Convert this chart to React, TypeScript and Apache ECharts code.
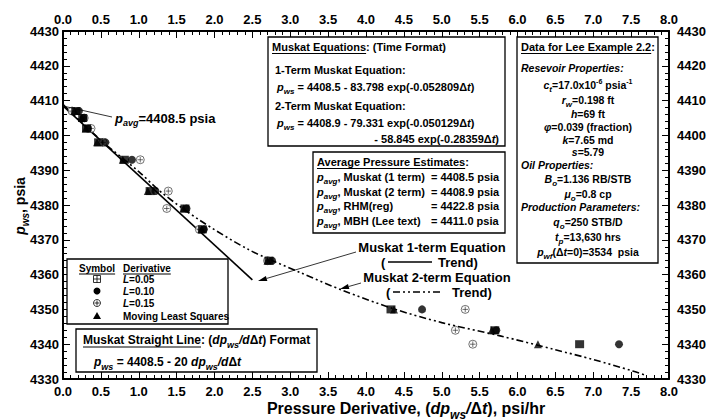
import React, { useEffect, useRef } from 'react';
import * as echarts from 'echarts';

const FONT = '"Liberation Sans", Arial, Helvetica, sans-serif';

// ---- Data ----
const xMin = 0, xMax = 8, xStep = 0.5;
const yMin = 4330, yMax = 4430, yStep = 10;

// Derivative L=0.05 (squares)
const deriv005: number[][] = [[0.17, 4407], [0.26, 4405], [0.31, 4402], [0.47, 4398], [0.81, 4393], [1.15, 4384], [1.61, 4379], [1.84, 4373], [2.72, 4364], [4.33, 4350], [5.70, 4344], [6.82, 4340]];
// Derivative L=0.10 (filled circles)
const deriv010: number[][] = [[0.21, 4407], [0.27, 4405], [0.33, 4402], [0.56, 4398], [0.91, 4393], [1.22, 4384], [1.63, 4379], [1.86, 4373], [2.76, 4364], [4.74, 4350], [5.72, 4344], [7.34, 4340]];
// Derivative L=0.15 (circle-plus)
const deriv015: number[][] = [[0.12, 4407], [0.28, 4405], [0.37, 4402], [0.53, 4398], [1.02, 4393], [1.39, 4384], [1.37, 4379], [1.80, 4373], [2.70, 4364], [5.31, 4350], [5.18, 4344], [5.41, 4340]];
// Moving least squares (triangles)
const derivMLS: number[][] = [[0.15, 4407], [0.25, 4405], [0.30, 4402], [0.45, 4398], [0.79, 4393], [1.12, 4384], [1.59, 4379], [1.83, 4373], [2.70, 4364], [4.37, 4350], [5.66, 4344], [6.27, 4340]];
// Muskat straight line (pws = 4408.5 - 20 dp/dt)
const straightLine: number[][] = [[0, 4408.5], [2.5, 4358.5]];
// Muskat 2-term trend
const twoTermTrend: number[][] = [[0, 4408.9], [0.5, 4398.6], [1.0, 4389.6], [1.3, 4383.6], [1.8, 4375.7], [2.45, 4367.2], [3.13, 4360.6], [3.7, 4355.4], [4.36, 4350.2], [5.0, 4346.2], [5.77, 4342.4], [6.5, 4338.4], [7.0, 4335.6], [7.52, 4332.3], [7.7, 4331.0]];

const avgLabels = ['{i|p}{s|avg}, Muskat (1 term)', '{i|p}{s|avg}, Muskat (2 term)', '{i|p}{s|avg}, RHM(reg)', '{i|p}{s|avg}, MBH (Lee text)'];
const avgValues = ['4408.5', '4408.9', '4422.8', '4411.0'];

const CIRCLE_PLUS = 'path://M0,-10A10,10,0,1,1,0,10A10,10,0,1,1,0,-10ZM0,-7L0,7M-7,0L7,0';

function rich(size: number) {
  const b = { fontFamily: FONT, fontWeight: 'bold', fill: '#000' };
  const sub = Math.round(size * 0.72);
  return {
    n: { ...b, fontSize: size, fontStyle: 'normal' },
    i: { ...b, fontSize: size, fontStyle: 'italic' },
    s: { ...b, fontSize: sub, fontStyle: 'italic', padding: [Math.round(size * 0.8), 0, 0, 0] },
    u: { ...b, fontSize: Math.round(size * 0.62), fontStyle: 'normal', padding: [0, 0, Math.round(size * 0.75), 0] },
  };
}

function txt(x: number, y: number, text: string, size: number, o: any = {}) {
  return {
    type: 'text', x, y, z: 100, rotation: o.rotation || 0,
    style: {
      text, fontFamily: FONT, fontSize: size, fontWeight: 'bold', fontStyle: o.italic ? 'italic' : 'normal',
      fill: '#000', align: o.align || 'left', verticalAlign: 'middle', rich: rich(size),
    },
  };
}

function line(x1: number, y1: number, x2: number, y2: number, w = 1, dash?: number[]) {
  return { type: 'line', z: 100, shape: { x1, y1, x2, y2 }, style: { stroke: '#000', lineWidth: w, lineDash: dash } };
}

function box(x: number, y: number, w: number, h: number) {
  return { type: 'rect', z: 99, shape: { x, y, width: w, height: h }, style: { fill: '#fff', stroke: '#000', lineWidth: 1.3 } };
}

function arrow(x1: number, y1: number, x2: number, y2: number) {
  const a = Math.atan2(y2 - y1, x2 - x1);
  const L = 9, W = 2.6;
  const bx = x2 - L * Math.cos(a), by = y2 - L * Math.sin(a);
  const nx = -Math.sin(a) * W, ny = Math.cos(a) * W;
  return [
    line(x1, y1, bx, by, 0.8),
    { type: 'polygon', z: 100, shape: { points: [[x2, y2], [bx + nx, by + ny], [bx - nx, by - ny]] }, style: { fill: '#000' } },
  ];
}

let measureCtx: CanvasRenderingContext2D | null = null;
function tw(text: string, size: number) {
  if (!measureCtx) measureCtx = document.createElement('canvas').getContext('2d');
  measureCtx!.font = `bold ${size}px "Liberation Sans"`;
  return measureCtx!.measureText(text).width;
}

function underlined(x: number, y: number, under: string, rest: string, size: number) {
  const w = tw(under, size);
  return [txt(x, y, under + rest, size), line(x, y + size * 0.5 + 1, x + w, y + size * 0.5 + 1, 1)];
}

export default function App() {
  const ref = useRef<HTMLDivElement>(null);
  useEffect(() => {
    document.body.style.margin = '0';
    const chart = echarts.init(ref.current!, null, { renderer: 'svg' });

    const xAxisBase = {
      type: 'value', min: xMin, max: xMax, interval: xStep,
      axisLine: { show: true, onZero: false, lineStyle: { color: '#000', width: 2 } },
      axisTick: { show: true, inside: true, length: 7, lineStyle: { color: '#000', width: 1 } },
      minorTick: { show: true, splitNumber: 5, length: 4, lineStyle: { color: '#000', width: 1 } },
      splitLine: { show: false },
      axisLabel: { color: '#000', fontSize: 13, fontWeight: 'bold', fontFamily: FONT, formatter: (v: number) => v.toFixed(1), margin: 6, showMinLabel: true, showMaxLabel: true },
    };
    const yAxisBase = {
      type: 'value', min: yMin, max: yMax, interval: yStep,
      axisLine: { show: true, onZero: false, lineStyle: { color: '#000', width: 2 } },
      axisTick: { show: true, inside: true, length: 7, lineStyle: { color: '#000', width: 1 } },
      minorTick: { show: true, splitNumber: 5, length: 4, lineStyle: { color: '#000', width: 1 } },
      splitLine: { show: false },
    };
    const yLabel = (margin: number) => ({ color: '#000', fontSize: 13, fontWeight: 'bold', fontFamily: FONT, margin, showMinLabel: true, showMaxLabel: true, formatter: (v: number) => String(v) });

    const g: any[] = [];
    // p_avg annotation
    g.push(line(63, 106, 112, 117, 0.8));
    g.push(txt(115, 118, '{i|p}{s|avg}=4408.5 psia', 13));

    // Muskat Equations box
    g.push(box(268, 37, 237, 109));
    g.push(...underlined(272, 47, 'Muskat Equations', ': (Time Format)', 11));
    g.push(txt(275, 70, '1-Term Muskat Equation:', 11));
    g.push(txt(277, 87, '{i|p}{s|ws} = 4408.5 - 83.798 exp(-0.052809Δ{i|t})', 11));
    g.push(txt(275, 106, '2-Term Muskat Equation:', 11));
    g.push(txt(277, 123, '{i|p}{s|ws} = 4408.9 - 79.331 exp(-0.050129Δ{i|t})', 11));
    g.push(txt(499, 139, '- 58.845 exp(-0.28359Δ{i|t})', 11, { align: 'right' }));

    // Average pressure estimates box
    g.push(box(313, 152, 192, 81));
    g.push(...underlined(317, 162, 'Average Pressure Estimates', ':', 11));
    avgLabels.forEach((lab, k) => {
      const y = 177 + k * 14.7;
      g.push(txt(317, y, lab, 11));
      g.push(txt(431, y, '= ' + avgValues[k] + ' psia', 11));
    });

    // Data box
    g.push(box(517, 37, 141, 226));
    g.push(...underlined(521, 47, 'Data for Lee Example 2.2', ':', 11));
    const cx = 588;
    g.push(txt(521, 68, 'Resevoir Properties:', 10.5, { italic: true }));
    g.push(txt(cx, 85, '{i|c}{s|t}=17.0x10{u|-6} psia{u|-1}', 10.5, { align: 'center' }));
    g.push(txt(cx, 100, '{i|r}{s|w}=0.198 ft', 10.5, { align: 'center' }));
    g.push(txt(cx, 114, '{i|h}=69 ft', 10.5, { align: 'center' }));
    g.push(txt(cx, 127, '{i|φ}=0.039 (fraction)', 10.5, { align: 'center' }));
    g.push(txt(cx, 140, '{i|k}=7.65 md', 10.5, { align: 'center' }));
    g.push(txt(cx, 152, '{i|s}=5.79', 10.5, { align: 'center' }));
    g.push(txt(521, 165, 'Oil Properties:', 10.5, { italic: true }));
    g.push(txt(cx, 179, '{i|B}{s|o}=1.136 RB/STB', 10.5, { align: 'center' }));
    g.push(txt(cx, 194, '{i|μ}{s|o}=0.8 cp', 10.5, { align: 'center' }));
    g.push(txt(521, 207, 'Production Parameters:', 10.5, { italic: true }));
    g.push(txt(cx, 222, '{i|q}{s|o}=250 STB/D', 10.5, { align: 'center' }));
    g.push(txt(cx, 237, '{i|t}{s|p}=13,630 hrs', 10.5, { align: 'center' }));
    g.push(txt(cx, 252, '{i|p}{s|wf}(Δ{i|t}=0)=3534  psia', 10.5, { align: 'center' }));

    // Legend box
    g.push(box(67, 259, 161, 65));
    g.push(...underlined(79, 268, 'Symbol', '', 10));
    g.push(...underlined(123, 268, 'Derivative', '', 10));
    const sx = 97;
    g.push({ type: 'rect', z: 100, shape: { x: sx - 3.5, y: 279 - 3.5, width: 7, height: 7 }, style: { fill: '#fff', stroke: '#000', lineWidth: 0.8 } });
    g.push(line(sx, 275.5, sx, 282.5, 0.8), line(sx - 3.5, 279, sx + 3.5, 279, 0.8));
    g.push({ type: 'circle', z: 100, shape: { cx: sx, cy: 291, r: 3.5 }, style: { fill: '#000' } });
    g.push({ type: 'circle', z: 100, shape: { cx: sx, cy: 303, r: 3.5 }, style: { fill: '#fff', stroke: '#000', lineWidth: 0.8 } });
    g.push(line(sx, 300.5, sx, 305.5, 0.8), line(sx - 2.5, 303, sx + 2.5, 303, 0.8));
    g.push({ type: 'polygon', z: 100, shape: { points: [[sx - 4, 319], [sx + 4, 319], [sx, 312]] }, style: { fill: '#000' } });
    g.push(txt(123, 279, '{i|L}=0.05', 10));
    g.push(txt(123, 291, '{i|L}=0.10', 10));
    g.push(txt(123, 303, '{i|L}=0.15', 10));
    g.push(txt(123, 316, 'Moving Least Squares', 10));

    // Muskat straight line box
    g.push(box(76, 329, 241, 43));
    g.push(...underlined(83, 340, 'Muskat Straight Line', ': ({i|dp}{s|ws}{i|/d}Δ{i|t}) Format', 12));
    g.push(txt(94, 362, '{i|p}{s|ws} = 4408.5 - 20 {i|dp}{s|ws}{i|/d}Δ{i|t}', 12));

    // Trend labels with arrows
    g.push(txt(432, 247, 'Muskat 1-term Equation', 13, { align: 'center' }));
    g.push(txt(381, 262, '(', 13));
    g.push(line(388, 262, 432, 262, 1.5));
    g.push(txt(438, 262, 'Trend)', 13));
    g.push(txt(437, 277, 'Muskat 2-term Equation', 13, { align: 'center' }));
    g.push(txt(386, 292, '(', 13));
    g.push(line(393, 292, 443, 292, 1.5, [7, 3, 2, 3, 2, 3]));
    g.push(txt(452, 292, 'Trend)', 13));
    g.push(...arrow(356, 252, 258, 281));
    g.push(...arrow(361, 283, 340, 289));

    // Axis titles
    g.push(txt(20, 206, '{i|p}{s|ws}, psia', 14, { align: 'center', rotation: Math.PI / 2 }));
    g.push(txt(406, 408, 'Pressure Derivative, ({i|dp}{s|ws}{i|/}Δ{i|t}), psi/hr', 16, { align: 'center' }));

    chart.setOption({
      animation: false,
      backgroundColor: '#fff',
      grid: { left: 63, right: 38, top: 31, bottom: 41, containLabel: false, outerBoundsMode: 'none' },
      xAxis: [
        { ...xAxisBase, position: 'bottom' },
        { ...xAxisBase, position: 'top', axisLabel: { ...xAxisBase.axisLabel, margin: 5 } },
      ],
      yAxis: [
        { ...yAxisBase, position: 'left', axisLabel: yLabel(4) },
        { ...yAxisBase, position: 'right', axisLabel: yLabel(8) },
      ],
      series: [
        { type: 'line', data: straightLine, showSymbol: false, symbol: 'none', lineStyle: { color: '#000', width: 1.6 }, z: 3 },
        { type: 'line', data: twoTermTrend, smooth: 0.3, showSymbol: false, symbol: 'none', lineStyle: { color: '#000', width: 1.6, type: [7, 3, 2, 3, 2, 3] }, z: 3 },
        { type: 'scatter', data: deriv015, symbol: CIRCLE_PLUS, symbolSize: 8, itemStyle: { color: '#fff', borderColor: '#222', borderWidth: 0.8 }, z: 4 },
        { type: 'scatter', data: derivMLS, symbol: 'triangle', symbolSize: 8, itemStyle: { color: '#000' }, z: 5 },
        { type: 'scatter', data: deriv005, symbol: 'rect', symbolSize: [9, 8], itemStyle: { color: '#000' }, z: 5 },
        { type: 'scatter', data: deriv010, symbol: 'circle', symbolSize: 8, itemStyle: { color: '#000' }, z: 5 },
      ],
      graphic: g,
    });
    return () => chart.dispose();
  }, []);
  return <div ref={ref} style={{ width: 707, height: 420, position: 'absolute', left: 0, top: 0 }} />;
}
